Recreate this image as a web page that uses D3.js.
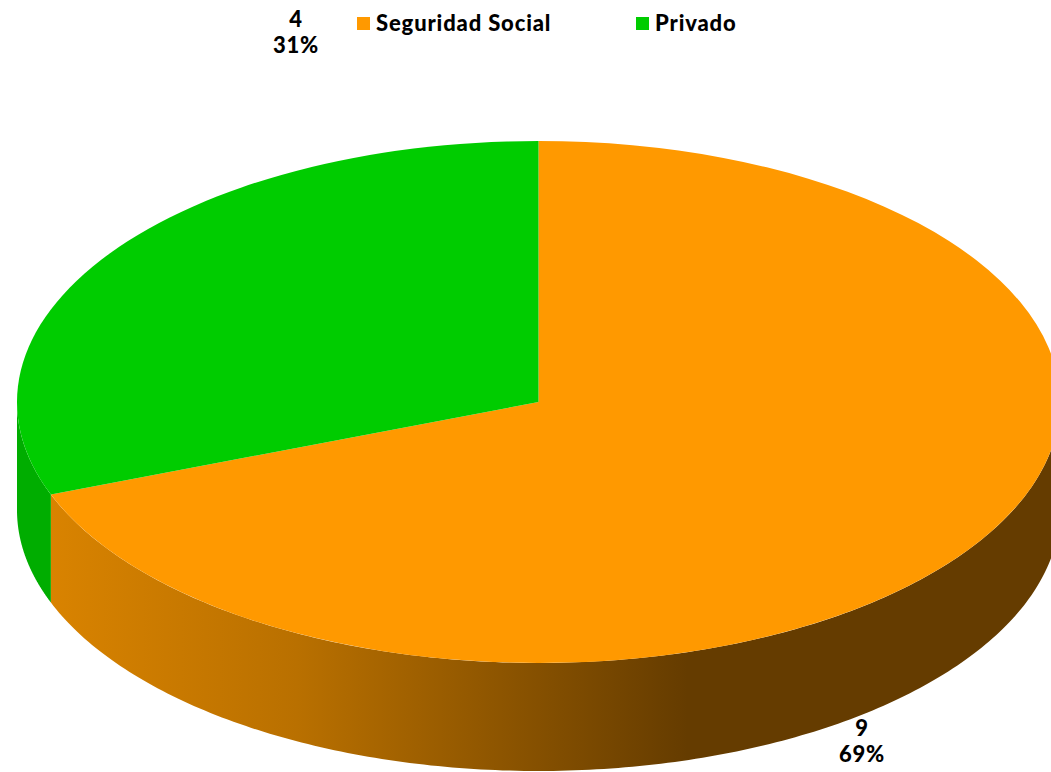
<!DOCTYPE html>
<html><head><meta charset="utf-8">
<script src="https://cdn.jsdelivr.net/npm/d3@7/dist/d3.min.js"></script>
<style>html,body{margin:0;padding:0;background:#fff}svg{display:block}text{font-family:Lato,sans-serif;font-weight:900;fill:#000;letter-spacing:0.85px}</style>
</head><body><svg id="c" width="1051" height="772"></svg>
<script>
const categories = ["Seguridad Social", "Privado"];
const values = [9, 4];
const percents = ["69%", "31%"];
const topColors = ["#ff9900", "#00cc00"];
const wallColors = ["url(#wallO)", "#00ad00"];
const wallStops = [[0,"#d98300"],[0.33,"#b97000"],[0.62,"#8a5300"],[0.85,"#653c00"],[1,"#653c00"]];

const W = 1051, H = 772, cx = 538.5, cy = 402, rx = 521.5, ry = 261, depth = 108;
const svg = d3.select("#c");
const grad = svg.append("defs").append("linearGradient").attr("id","wallO")
  .attr("gradientUnits","userSpaceOnUse").attr("x1",50).attr("x2",800).attr("y1",0).attr("y2",0);
wallStops.forEach(s => grad.append("stop").attr("offset",s[0]).attr("stop-color",s[1]));

const arcs = d3.pie().sort(null).value(d => d)(values);
const px = a => cx + rx * Math.sin(a), py = a => cy - ry * Math.cos(a);

// side walls: only the front half of the ellipse is visible
const wall = d3.area().x(px).y0(py).y1(a => py(a) + depth);
svg.selectAll("path.wall").data(arcs).join("path").attr("class","wall")
  .attr("fill",(d,i)=>wallColors[i])
  .attr("d",d=>{
    const a0 = Math.max(d.startAngle, Math.PI/2), a1 = Math.min(d.endAngle, 3*Math.PI/2);
    if (a1 <= a0) return null;
    const n = 200;
    return wall(d3.range(n+1).map(i => a0 + (a1-a0)*i/n));
  });

// top face
const arc = d3.arc().innerRadius(0).outerRadius(rx);
svg.append("g").attr("transform",`translate(${cx},${cy}) scale(1,${ry/rx})`)
  .selectAll("path").data(arcs).join("path")
  .attr("fill",(d,i)=>topColors[i]).attr("d",arc);

// legend
const legendX = [357, 636];
const lg = svg.selectAll("g.lg").data(categories).join("g").attr("class","lg")
  .attr("transform",(d,i)=>`translate(${legendX[i]},17)`);
lg.append("rect").attr("width",13).attr("height",13).attr("fill",(d,i)=>topColors[i]);
lg.append("text").attr("x",19).attr("y",14).attr("font-size",22).text(d=>d);

// data labels
const labelPos = [[862,736],[296,27]];
const lb = svg.selectAll("g.lb").data(values).join("g").attr("class","lb")
  .attr("transform",(d,i)=>`translate(${labelPos[i][0]},${labelPos[i][1]})`)
  .attr("text-anchor","middle").attr("font-size",22);
lb.append("text").text(d=>d);
lb.append("text").attr("y",26).text((d,i)=>percents[i]);
</script></body></html>
